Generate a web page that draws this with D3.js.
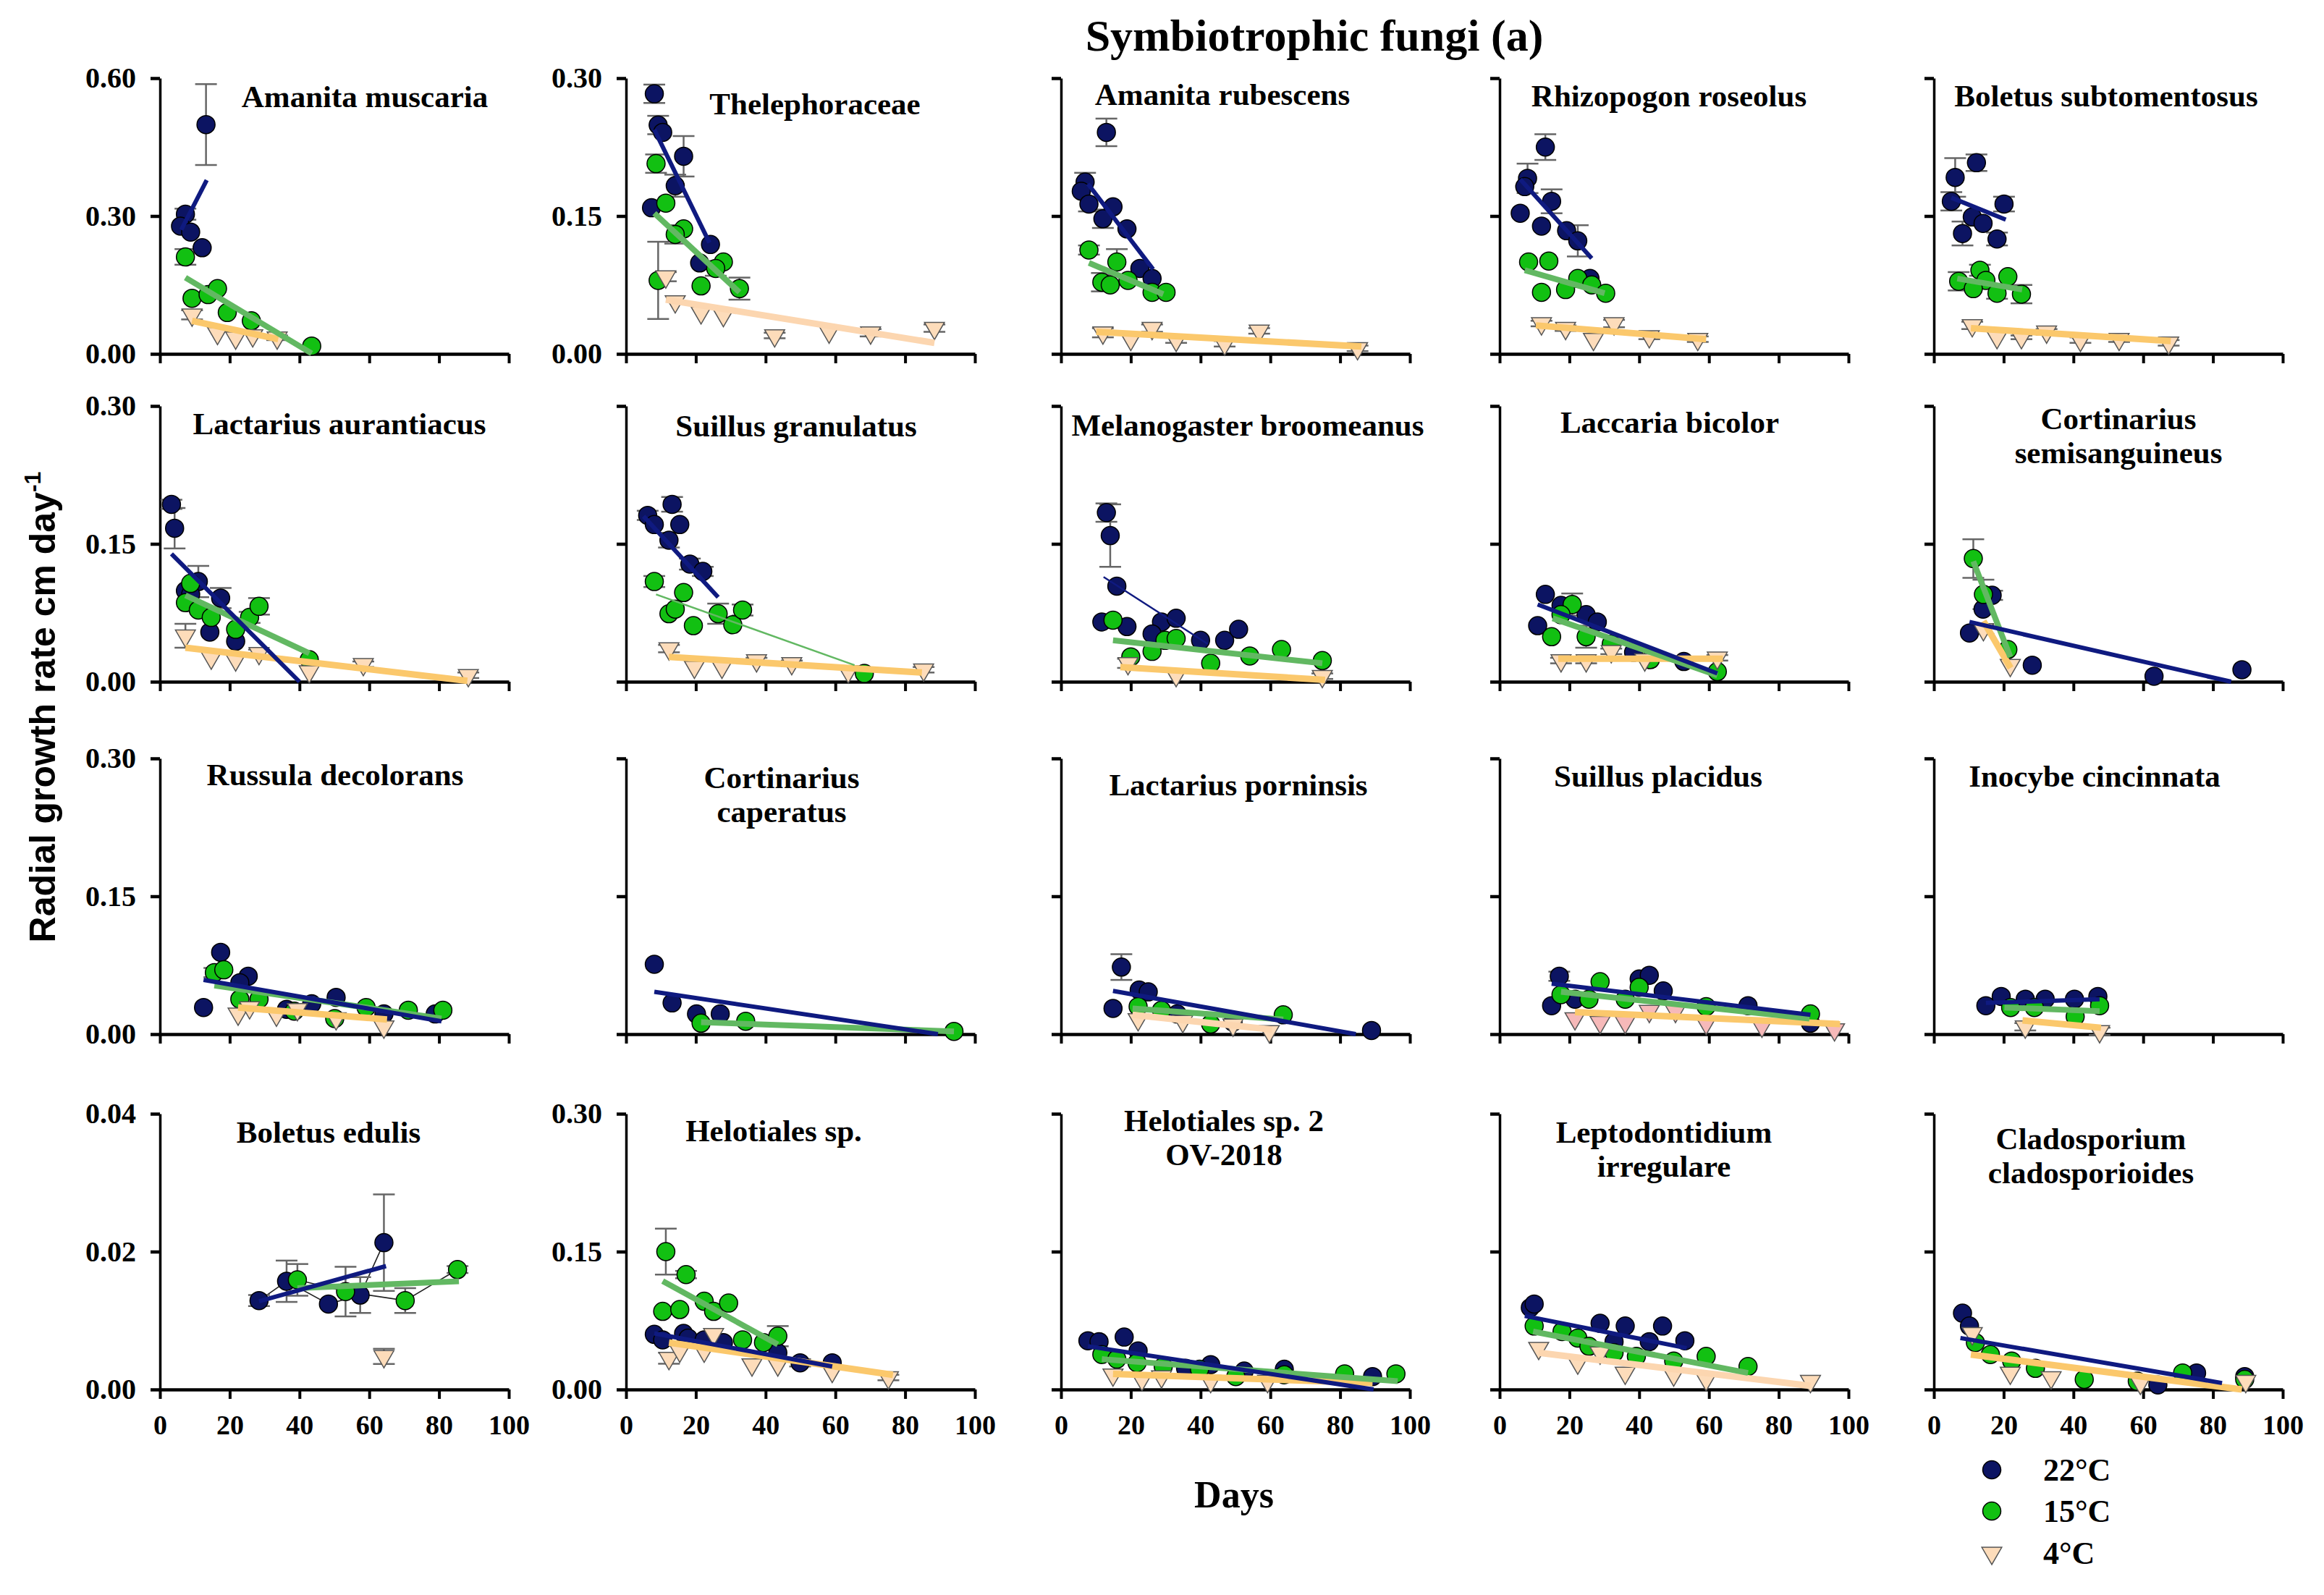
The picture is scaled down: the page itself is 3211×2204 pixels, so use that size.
<!DOCTYPE html>
<html>
<head>
<meta charset="utf-8">
<script src="https://cdn.jsdelivr.net/npm/d3@7"></script>
<style>
  body { margin: 0; background: #fff; }
  svg { display: block; }
  text { font-family: "Liberation Serif", "Times New Roman", serif; font-weight: bold; fill: #000; }
</style>
</head>
<body>
<svg id="chart" width="3211" height="2204"></svg>
<script>
// panel titles, row by row (second entry = second line)
var titles = [
  ["Amanita muscaria"], ["Thelephoraceae"], ["Amanita rubescens"], ["Rhizopogon roseolus"], ["Boletus subtomentosus"],
  ["Lactarius aurantiacus"], ["Suillus granulatus"], ["Melanogaster broomeanus"], ["Laccaria bicolor"], ["Cortinarius", "semisanguineus"],
  ["Russula decolorans"], ["Cortinarius", "caperatus"], ["Lactarius porninsis"], ["Suillus placidus"], ["Inocybe cincinnata"],
  ["Boletus edulis"], ["Helotiales sp."], ["Helotiales sp. 2", "OV-2018"], ["Leptodontidium", "irregulare"], ["Cladosporium", "cladosporioides"]
]

// top of the y scale of each panel
var yMax = [0.6, 0.3, 0.3, 0.3, 0.3,
            0.3, 0.3, 0.3, 0.3, 0.3,
            0.3, 0.3, 0.3, 0.3, 0.3,
            0.04, 0.3, 0.3, 0.3, 0.3]

var dayTicks = [0, 20, 40, 60, 80, 100]
var legendLabels = ["22°C", "15°C", "4°C"]

// points: [day, rate, sd]
var pts22 = [
  [[13.2,0.499,0.088],[7.3,0.304,0.012],[5.9,0.278,0],[8.8,0.265,0],[12.1,0.231,0]],
  [[8.1,0.283,0.01],[9.2,0.249,0.01],[10.5,0.241,0],[16.5,0.215,0.022],[14.1,0.183,0.012],[7.3,0.159,0],[24.2,0.119,0],[21.1,0.099,0]],
  [[13.0,0.241,0.015],[6.9,0.187,0.01],[5.8,0.177,0],[8.0,0.163,0.008],[14.9,0.160,0],[12.0,0.147,0.01],[18.9,0.136,0],[22.6,0.093,0],[26.1,0.082,0]],
  [[13.1,0.225,0.014],[8.0,0.191,0.016],[7.2,0.182,0],[14.9,0.166,0.013],[5.9,0.153,0],[12.0,0.139,0],[19.2,0.134,0],[22.4,0.123,0.017],[25.9,0.082,0]],
  [[12.2,0.208,0.009],[6.1,0.192,0.021],[5.0,0.166,0.01],[20.1,0.163,0.008],[11.0,0.149,0],[14.1,0.142,0],[8.2,0.131,0.013],[18.1,0.125,0.007]],
  [[3.3,0.193,0.005],[4.2,0.167,0.022],[11.0,0.109,0.017],[7.3,0.099,0],[8.8,0.095,0],[17.4,0.091,0.011],[14.3,0.054,0],[21.7,0.044,0]],
  [[13.2,0.193,0.008],[6.2,0.181,0.005],[8.1,0.171,0],[15.4,0.171,0],[12.3,0.154,0.008],[18.3,0.128,0.006],[22.0,0.120,0.005]],
  [[13.0,0.184,0.010],[14.1,0.159,0.034],[16.0,0.104,0],[11.7,0.065,0],[18.9,0.060,0],[28.8,0.065,0],[33.0,0.069,0],[26.1,0.052,0],[40.0,0.045,0],[46.9,0.045,0],[50.9,0.057,0]],
  [[13.1,0.095,0],[10.9,0.061,0],[17.6,0.083,0],[24.8,0.073,0],[28.0,0.065,0],[38.4,0.032,0],[52.8,0.022,0]],
  [[16.7,0.094,0.005],[14.1,0.079,0],[10.2,0.053,0],[28.2,0.018,0],[63.1,0.006,0],[88.3,0.013,0]],
  [[17.4,0.089,0],[12.5,0.029,0],[25.3,0.063,0],[22.9,0.056,0],[36.3,0.027,0],[43.5,0.033,0],[50.5,0.040,0],[64.2,0.022,0],[78.9,0.022,0]],
  [[8.1,0.076,0],[13.2,0.034,0],[20.2,0.022,0],[27.0,0.022,0]],
  [[17.3,0.073,0.014],[14.9,0.028,0],[22.4,0.048,0],[25.0,0.046,0],[33.3,0.022,0],[49.3,0.013,0],[89.0,0.004,0]],
  [[17.1,0.063,0.005],[14.9,0.031,0],[21.6,0.038,0],[40.0,0.060,0],[42.9,0.064,0],[46.9,0.047,0],[71.2,0.031,0],[89.1,0.012,0]],
  [[14.9,0.031,0],[19.3,0.041,0],[26.2,0.038,0],[31.9,0.038,0],[40.3,0.038,0],[47.0,0.041,0]],
  [[28.4,0.0129,0.0008],[36.3,0.0157,0.003],[48.3,0.0124,0],[57.4,0.0137,0.0026],[64.2,0.0213,0.007]],
  [[8.1,0.060,0],[10.5,0.054,0],[16.5,0.061,0],[17.8,0.056,0],[22.4,0.054,0],[27.9,0.051,0],[43.5,0.040,0],[49.9,0.029,0.004],[59.1,0.029,0]],
  [[7.7,0.053,0],[10.9,0.052,0],[18.1,0.057,0],[22.1,0.042,0],[35.7,0.023,0],[42.9,0.027,0],[52.5,0.020,0],[64.0,0.022,0],[89.3,0.014,0]],
  [[8.8,0.089,0],[9.9,0.093,0],[28.8,0.072,0],[36.0,0.069,0],[32.8,0.052,0],[42.9,0.052,0],[46.7,0.069,0],[53.1,0.053,0]],
  [[8.2,0.083,0],[10.2,0.069,0],[64.2,0.005,0],[75.3,0.018,0],[89.1,0.014,0]]
]

var pts15 = [
  [[7.3,0.211,0.017],[9.2,0.121,0],[13.8,0.129,0],[16.5,0.142,0],[19.3,0.090,0],[26.2,0.072,0],[43.5,0.017,0]],
  [[8.6,0.207,0.01],[11.4,0.164,0],[16.5,0.136,0],[14.1,0.130,0.01],[9.2,0.080,0.042],[21.5,0.074,0],[27.9,0.100,0],[25.7,0.093,0.008],[32.5,0.071,0.012]],
  [[8.0,0.113,0.005],[16.0,0.100,0.014],[11.7,0.078,0.01],[14.1,0.075,0],[19.2,0.080,0],[26.1,0.067,0],[30.1,0.067,0]],
  [[8.3,0.100,0],[14.1,0.101,0],[12.0,0.067,0],[18.9,0.070,0],[22.4,0.082,0],[26.4,0.075,0],[30.4,0.066,0]],
  [[13.2,0.091,0.006],[7.1,0.079,0.01],[21.2,0.084,0],[14.9,0.080,0],[11.3,0.071,0],[18.1,0.066,0.006],[25.1,0.065,0.01]],
  [[8.8,0.107,0],[7.3,0.086,0],[11.0,0.078,0],[14.7,0.070,0],[21.7,0.057,0],[25.7,0.070,0.006],[28.4,0.082,0.009],[42.8,0.024,0]],
  [[8.1,0.109,0.006],[16.5,0.097,0],[12.3,0.074,0],[14.1,0.079,0],[19.3,0.061,0],[26.4,0.074,0.011],[30.6,0.062,0],[33.4,0.078,0.006],[68.3,0.009,0]],
  [[14.9,0.067,0],[20.0,0.027,0],[26.1,0.033,0],[29.8,0.045,0],[33.0,0.047,0],[42.9,0.020,0],[54.1,0.028,0],[63.2,0.035,0],[74.9,0.023,0]],
  [[20.8,0.084,0.012],[14.9,0.049,0],[17.6,0.073,0],[24.8,0.049,0.012],[32.0,0.041,0],[43.2,0.024,0],[62.4,0.011,0]],
  [[11.3,0.134,0.021],[14.2,0.095,0.016],[21.2,0.035,0]],
  [[15.6,0.067,0.005],[18.3,0.070,0],[22.9,0.038,0],[28.4,0.038,0],[38.5,0.025,0],[50.1,0.017,0],[59.1,0.029,0],[71.2,0.026,0],[81.1,0.026,0]],
  [[21.5,0.012,0],[34.3,0.014,0],[94.0,0.003,0]],
  [[22.1,0.030,0],[28.8,0.026,0],[42.9,0.011,0],[63.7,0.021,0]],
  [[17.6,0.043,0],[28.8,0.057,0],[25.6,0.038,0],[36.0,0.038,0],[40.0,0.051,0],[59.2,0.030,0],[89.1,0.022,0]],
  [[22.0,0.029,0],[28.8,0.029,0],[40.5,0.019,0],[47.5,0.031,0]],
  [[39.4,0.0159,0.0023],[53.2,0.0142,0.0036],[70.3,0.0129,0.0018],[85.3,0.0174,0.0005]],
  [[11.4,0.150,0.025],[17.2,0.125,0.004],[10.5,0.085,0],[15.4,0.087,0],[22.4,0.096,0],[25.1,0.085,0],[29.4,0.094,0],[33.4,0.054,0],[39.4,0.051,0],[43.5,0.058,0.011]],
  [[11.7,0.038,0],[16.0,0.033,0],[21.8,0.029,0],[29.3,0.025,0],[39.7,0.022,0],[50.1,0.014,0],[64.0,0.016,0],[81.3,0.017,0],[96.0,0.017,0]],
  [[9.9,0.069,0],[17.9,0.063,0],[22.4,0.056,0],[25.6,0.047,0],[32.8,0.040,0],[39.2,0.036,0],[49.9,0.031,0],[59.2,0.036,0],[71.2,0.025,0]],
  [[11.9,0.051,0],[16.2,0.038,0],[22.3,0.031,0],[29.1,0.023,0],[43.1,0.011,0],[58.3,0.009,0],[71.3,0.018,0],[89.1,0.011,0]]
]

var pts4 = [
  [[9.2,0.085,0.01],[16.5,0.045,0],[21.7,0.035,0],[26.6,0.040,0],[33.6,0.035,0.005]],
  [[11.4,0.084,0.005],[14.1,0.057,0],[21.5,0.045,0],[27.9,0.042,0],[42.6,0.020,0.003],[58.2,0.024,0],[70.1,0.023,0.004],[88.4,0.028,0.004]],
  [[12.0,0.023,0.005],[20.0,0.016,0],[26.1,0.028,0.004],[33.0,0.015,0.003],[46.9,0.011,0.003],[56.8,0.025,0.003],[85.0,0.006,0.003]],
  [[12.0,0.033,0.003],[18.9,0.028,0.003],[26.9,0.016,0],[32.8,0.033,0.004],[42.9,0.019,0.003],[56.8,0.016,0.003]],
  [[11.0,0.031,0.004],[18.1,0.018,0],[25.1,0.018,0.002],[32.3,0.024,0.003],[42.0,0.015,0.003],[53.1,0.016,0.003],[67.3,0.012,0.003]],
  [[7.3,0.050,0.013],[14.7,0.026,0],[21.7,0.024,0],[28.4,0.031,0.004],[42.8,0.011,0],[58.3,0.019,0.003],[88.4,0.007,0.003]],
  [[12.3,0.036,0.004],[19.6,0.016,0],[27.5,0.016,0],[37.4,0.023,0.003],[47.5,0.020,0.003],[63.7,0.011,0],[85.3,0.013,0.003]],
  [[19.2,0.020,0.005],[33.0,0.007,0],[74.9,0.006,0.003]],
  [[17.6,0.023,0.003],[24.8,0.023,0.003],[32.0,0.033,0.003],[41.6,0.024,0],[62.4,0.026,0.003]],
  [[14.2,0.057,0.005],[21.9,0.018,0]],
  [[22.4,0.022,0],[25.7,0.029,0],[33.4,0.021,0],[39.4,0.027,0],[50.5,0.017,0],[64.2,0.008,0]],
  [],
  [[22.1,0.016,0],[34.9,0.014,0],[49.3,0.010,0],[59.7,0.003,0]],
  [[21.6,0.017,0],[28.8,0.013,0],[36.0,0.013,0],[42.9,0.025,0],[50.4,0.025,0],[59.2,0.012,0],[75.2,0.009,0],[96.0,0.005,0]],
  [[26.2,0.008,0.004],[47.5,0.003,0.004]],
  [[64.2,0.0048,0.0011]],
  [[12.3,0.034,0.006],[15.4,0.042,0],[22.4,0.042,0],[25.1,0.060,0],[36.1,0.027,0],[43.5,0.027,0],[59.1,0.020,0],[75.2,0.013,0.003]],
  [[14.9,0.016,0],[23.2,0.011,0],[28.8,0.014,0],[42.9,0.009,0],[59.2,0.009,0]],
  [[11.2,0.045,0],[22.4,0.029,0],[28.8,0.040,0],[36.0,0.018,0],[49.9,0.016,0],[59.2,0.011,0],[89.1,0.009,0]],
  [[11.0,0.061,0],[21.9,0.018,0],[33.6,0.013,0],[59.2,0.007,0],[89.4,0.009,0]]
]

// fitted lines: [day1, rate1, day2, rate2]
var fit22 = [
  [6.1,0.270,13.4,0.378], [8.1,0.244,23.9,0.121], [7.7,0.185,26.4,0.092], [5.9,0.190,26.4,0.104], [5.0,0.170,20.6,0.146],
  [3.3,0.139,40.0,0.000], [5.0,0.180,26.4,0.092], [12.2,0.114,42.1,0.041], [10.9,0.084,62.4,0.009], [10.2,0.065,85.2,0.000],
  [12.5,0.059,80.7,0.014], [8.1,0.046,89.4,0.000], [14.9,0.047,84.5,0.000], [14.9,0.055,89.1,0.021], [14.9,0.034,47.5,0.038],
  [28.4,0.0128,64.8,0.0179], [8.1,0.061,59.1,0.025], [7.7,0.047,89.6,0.000], [7.2,0.080,53.6,0.045], [7.6,0.056,82.6,0.007]
]
var fit15 = [
  [7.3,0.166,43.5,0.001], [8.1,0.153,32.5,0.067], [8.0,0.099,29.3,0.065], [7.2,0.091,30.1,0.066], [6.7,0.082,25.3,0.070],
  [7.3,0.094,42.8,0.031], [8.6,0.095,65.5,0.018], [14.9,0.045,74.9,0.020], [15.2,0.069,62.4,0.007], [11.3,0.131,21.9,0.027],
  [15.6,0.053,80.7,0.017], [21.5,0.013,94.0,0.003], [20.5,0.028,63.7,0.016], [17.6,0.046,88.8,0.017], [20.2,0.029,47.5,0.025],
  [39.4,0.0147,85.7,0.0157], [10.5,0.118,43.5,0.049], [11.7,0.033,96.5,0.009], [9.6,0.063,71.2,0.018], null
]
var fit4 = [
  [9.2,0.072,33.9,0.032], [11.4,0.059,88.4,0.012], [10.1,0.024,86.1,0.008], [10.4,0.031,59.2,0.016], [10.6,0.028,67.9,0.014],
  [7.3,0.037,88.1,0.001], [12.3,0.027,84.8,0.010], [17.0,0.016,75.7,0.002], [16.8,0.025,64.0,0.025], [14.2,0.066,22.0,0.015],
  [22.4,0.029,65.1,0.016], null, [20.5,0.021,60.5,0.005], [21.6,0.024,97.6,0.011], [25.4,0.015,47.9,0.007],
  null, [12.3,0.051,76.5,0.016], [14.9,0.017,89.3,0.007], [11.2,0.040,89.1,0.004], [10.6,0.038,88.3,0.000]
]

// layout
var colX = [221, 865, 1466, 2072, 2672], plotW = 482
var rowTop = [108, 561, 1048, 1539], plotH = 381
var titleAt = [[504,148],[1126,158],[1689,145],[2306,147],[2910,147],
               [469,600],[1100,603],[1724,602],[2307,598],[2927,593],
               [463,1085],[1080,1089],[1711,1099],[2291,1087],[2894,1087],
               [454,1579],[1069,1577],[1691,1563],[2299,1579],[2889,1588]]

var navy = "#0c1462", green = "#12c012", peach = "#fddcba", pink = "#f6b9b9"
var line22 = "#0f1a80", line15 = "#62b862", line4 = "#fbc86c", line4light = "#fcd6b0"
var peachFit = [1, 12, 18]        // panels whose 4°C fit is drawn in pale peach
var thinFit22 = [7], thinFit15 = [6]
var joined = [15]                 // points joined by a thin line

var svg = d3.select('#chart')

svg.append('text')
  .attr('x', 1816).attr('y', 70)
  .attr('text-anchor', 'middle')
  .style('font-size', '62px')
  .text('Symbiotrophic fungi (a)')

var tri = d3.symbol().type(d3.symbolTriangle).size(330)

titles.forEach(function(title, i) {
  var row = Math.floor(i / 5)
    , col = i % 5
    , x = d3.scaleLinear().domain([0, 100]).range([colX[col], colX[col] + plotW])
    , y = d3.scaleLinear().domain([0, yMax[i]]).range([rowTop[row] + plotH, rowTop[row]])
    , g = svg.append('g')
    , showY = col === 0 || (col === 1 && (row === 0 || row === 3))

  // axes
  var xAxis = d3.axisBottom(x).tickValues(dayTicks).tickSize(13).tickSizeOuter(0).tickPadding(22)
    .tickFormat(row === 3 ? d3.format('d') : '')
  var xg = g.append('g').attr('transform', 'translate(0,' + y(0) + ')').call(xAxis)
  xg.select('.domain').attr('stroke-width', 4.5)
  xg.selectAll('.tick line').attr('stroke-width', 4)
  xg.selectAll('text').style('font-size', '38px').style('font-family', '"Liberation Serif", serif')

  var m = yMax[i]
  var yAxis = d3.axisLeft(y).tickValues([0, m / 2, m]).tickSize(13).tickSizeOuter(0).tickPadding(20)
    .tickFormat(showY ? d3.format('.2f') : '')
  var yg = g.append('g').attr('transform', 'translate(' + x(0) + ',0)').call(yAxis)
  yg.select('.domain').attr('stroke-width', 3.5)
  yg.selectAll('.tick line').attr('stroke-width', 4.5)
  yg.selectAll('text').style('font-size', '40px').style('font-family', '"Liberation Serif", serif')

  // title
  title.forEach(function(t, k) {
    g.append('text')
      .attr('x', titleAt[i][0]).attr('y', titleAt[i][1] + k * 47)
      .attr('text-anchor', 'middle')
      .style('font-size', '43px')
      .text(t)
  })

  var series = [
    { pts: pts22[i], fill: navy },
    { pts: pts15[i], fill: green },
    { pts: pts4[i], fill: i === 13 ? pink : peach, tri: true }
  ]

  // thin joining lines
  if (joined.indexOf(i) >= 0) {
    series.slice(0, 2).forEach(function(s) {
      var sorted = s.pts.slice().sort(function(a, b) { return a[0] - b[0] })
      g.append('path')
        .attr('d', d3.line().x(function(d) { return x(d[0]) }).y(function(d) { return y(d[1]) })(sorted))
        .attr('fill', 'none').attr('stroke', '#222').attr('stroke-width', 1.6)
    })
  }

  // error bars
  series.forEach(function(s) {
    s.pts.filter(function(d) { return d[2] > 0 }).forEach(function(d) {
      var eb = g.append('g').attr('stroke', '#666').attr('stroke-width', 2.5)
      eb.append('line').attr('x1', x(d[0])).attr('x2', x(d[0])).attr('y1', y(d[1] - d[2])).attr('y2', y(d[1] + d[2]))
      ;[d[1] - d[2], d[1] + d[2]].forEach(function(v) {
        eb.append('line').attr('x1', x(d[0]) - 15).attr('x2', x(d[0]) + 15).attr('y1', y(v)).attr('y2', y(v))
      })
    })
  })

  // markers
  series.forEach(function(s) {
    if (s.tri) {
      g.selectAll(null).data(s.pts).enter().append('path')
        .attr('d', tri)
        .attr('transform', function(d) { return 'translate(' + x(d[0]) + ',' + y(d[1]) + ') rotate(180)' })
        .attr('fill', s.fill).attr('stroke', '#555').attr('stroke-width', 1.5)
    } else {
      g.selectAll(null).data(s.pts).enter().append('circle')
        .attr('cx', function(d) { return x(d[0]) })
        .attr('cy', function(d) { return y(d[1]) })
        .attr('r', 12.5)
        .attr('fill', s.fill).attr('stroke', '#000').attr('stroke-width', 1.5)
    }
  })

  // fitted lines
  var fits = [
    { f: fit4[i], color: peachFit.indexOf(i) >= 0 ? line4light : line4, w: 9 },
    { f: fit15[i], color: line15, w: thinFit15.indexOf(i) >= 0 ? 2.5 : 8 },
    { f: fit22[i], color: line22, w: thinFit22.indexOf(i) >= 0 ? 2.5 : 6 }
  ]
  fits.forEach(function(ft) {
    if (!ft.f) return
    g.append('line')
      .attr('x1', x(ft.f[0])).attr('y1', y(ft.f[1]))
      .attr('x2', x(ft.f[2])).attr('y2', y(ft.f[3]))
      .attr('stroke', ft.color).attr('stroke-width', ft.w)
  })
})

// axis titles
svg.append('text')
  .attr('x', 1705).attr('y', 2083)
  .attr('text-anchor', 'middle')
  .style('font-size', '52px')
  .text('Days')

var yl = svg.append('text')
  .attr('transform', 'translate(76,977) rotate(-90)')
  .attr('text-anchor', 'middle')
  .style('font-family', '"Liberation Sans", Arial, sans-serif')
  .style('font-size', '50px')
yl.append('tspan').text('Radial growth rate cm day')
yl.append('tspan').attr('dy', -20).style('font-size', '32px').text('-1')

// legend
var legY = [2031, 2088, 2146]
legendLabels.forEach(function(lab, k) {
  if (k < 2) {
    svg.append('circle').attr('cx', 2752).attr('cy', legY[k]).attr('r', 12.5)
      .attr('fill', k === 0 ? navy : green).attr('stroke', '#000').attr('stroke-width', 1.5)
  } else {
    svg.append('path').attr('d', tri)
      .attr('transform', 'translate(2752,' + legY[k] + ') rotate(180)')
      .attr('fill', peach).attr('stroke', '#555').attr('stroke-width', 1.5)
  }
  svg.append('text').attr('x', 2823).attr('y', legY[k] + 15)
    .style('font-size', '44px').text(lab)
})
</script>
</body>
</html>
